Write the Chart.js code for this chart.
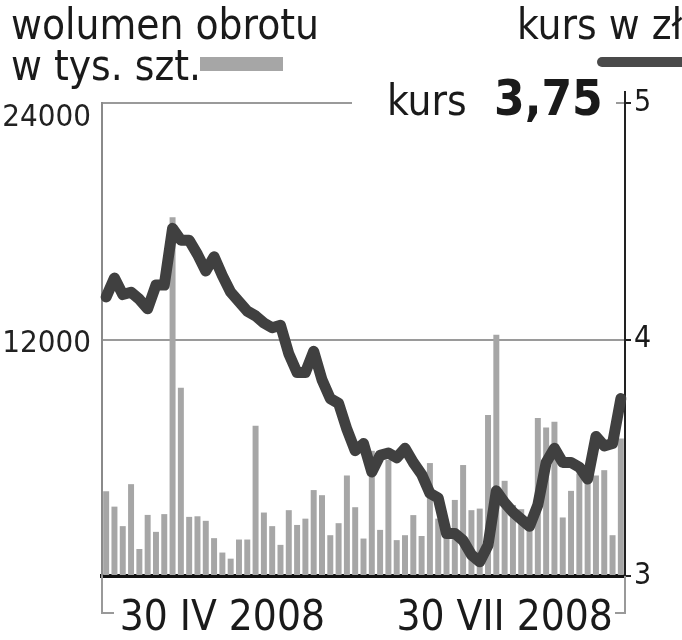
<!DOCTYPE html>
<html lang="pl">
<head>
<meta charset="UTF-8">
<title>Wolumen obrotu i kurs</title>
<script src="https://cdn.jsdelivr.net/npm/chart.js"></script>
<style>
    html, body { margin: 0; padding: 0; background: #fff; overflow: hidden; }
    #wrap {
        position: relative; width: 682px; height: 640px; overflow: hidden;
        font-family: 'DejaVu Sans Condensed', 'DejaVu Sans', sans-serif; color: #1a1a1a;
    }
    #wrap canvas { position: absolute; left: 0; top: 0; }
    .txt { position: absolute; font-size: 42px; line-height: 42px; white-space: nowrap; }
    #cover { position: absolute; left: 352px; top: 96px; width: 264px; height: 14px; background: #fff; }
    #kursVal { position: absolute; left: 494px; top: 75px; font-size: 49px; line-height: 48px; font-weight: bold; }
    #volKey { position: absolute; left: 200px; top: 57px; width: 83px; height: 14px; background: #a6a6a6; }
    #priceKey { position: absolute; left: 597px; top: 57px; width: 110px; height: 10px; border-radius: 5px; background: #4a4a4a; }
</style>
</head>
<body>
<div id="wrap">
    <canvas id="chart" width="682" height="640"></canvas>
    <div class="txt" style="left:11px; top:4px;">wolumen obrotu</div>
    <div class="txt" style="left:11px; top:45px;">w tys. szt.</div>
    <div id="volKey"></div>
    <div class="txt" style="left:517px; top:4px;">kurs w zł</div>
    <div id="priceKey"></div>
    <div id="cover"></div>
    <div class="txt" style="left:387px; top:80px;">kurs</div>
    <div id="kursVal">3,75</div>
</div>

<script>
// volume in thousands of shares, one bar per session
const volume = [
    4300, 3520, 2530, 4660, 1370, 3100, 2240, 3140, 18200, 9550,
    3000, 3030, 2800, 1920, 1190, 880, 1850, 1850, 7630, 3220,
    2530, 1580, 3340, 2590, 2910, 4360, 4100, 2070, 2680, 5100,
    3490, 1900, 6350, 2340, 5900, 1820, 2070, 3090, 2030, 5730,
    2910, 2000, 3860, 5630, 3340, 3420, 8170, 12240, 4830, 3600,
    3390, 2300, 8020, 7540, 7830, 2970, 4320, 5200, 4850, 5100,
    5370, 2070, 6980
];

// closing price in zł
const price = [
    4.18, 4.26, 4.19, 4.20, 4.17, 4.13, 4.23, 4.23, 4.47, 4.42,
    4.42, 4.36, 4.29, 4.35, 4.27, 4.20, 4.16, 4.12, 4.10, 4.07,
    4.05, 4.06, 3.94, 3.86, 3.86, 3.95, 3.83, 3.75, 3.73, 3.62,
    3.53, 3.56, 3.44, 3.51, 3.52, 3.50, 3.54, 3.48, 3.43, 3.35,
    3.33, 3.18, 3.18, 3.15, 3.09, 3.06, 3.13, 3.36, 3.31, 3.27,
    3.24, 3.21, 3.30, 3.48, 3.54, 3.48, 3.48, 3.46, 3.41, 3.59,
    3.55, 3.56, 3.75
];

const dateTickIndex = [14, 48];
const dateTickText = ['30 IV 2008', '30 VII 2008'];
const volumeTicks = [0, 12000, 24000];
const priceTicks = [3, 4, 5];

const family = "'DejaVu Sans Condensed', 'DejaVu Sans', sans-serif";

const labels = volume.map((v, i) => {
    const k = dateTickIndex.indexOf(i);
    return k < 0 ? '' : dateTickText[k];
});

// left labels (top one hangs below its line), bracket under the axis, top of right axis
const extras = {
    id: 'extras',
    afterDraw(chart) {
        const ctx = chart.ctx;
        const s = chart.scales.y;
        const a = chart.chartArea;
        ctx.save();
        ctx.font = '31px ' + family;
        ctx.fillStyle = '#222';
        ctx.textAlign = 'right';
        ctx.textBaseline = 'alphabetic';
        volumeTicks.forEach(v => {
            if (v === 0) return;
            const y = s.getPixelForValue(v);
            ctx.fillText(String(v), 91, v === s.max ? y + 23 : y + 12);
        });

        ctx.strokeStyle = '#999';
        ctx.lineWidth = 2;
        ctx.beginPath();
        ctx.moveTo(a.left, a.bottom);
        ctx.lineTo(a.left, 613);
        ctx.lineTo(a.left + 12, 613);
        ctx.moveTo(a.right, a.bottom);
        ctx.lineTo(a.right, 613);
        ctx.lineTo(a.right - 10, 613);
        ctx.stroke();

        ctx.strokeStyle = '#222';
        ctx.beginPath();
        ctx.moveTo(a.right, a.top);
        ctx.lineTo(a.right, a.top - 12);
        ctx.stroke();
        ctx.restore();
    }
};

new Chart(document.getElementById('chart'), {
    type: 'bar',
    data: {
        labels: labels,
        datasets: [{
            type: 'line',
            label: 'kurs w zł',
            data: price,
            yAxisID: 'y1',
            order: 1,
            borderColor: '#404040',
            borderWidth: 11,
            borderJoinStyle: 'round',
            borderCapStyle: 'round',
            pointRadius: 0,
            tension: 0
        }, {
            label: 'wolumen obrotu w tys. szt.',
            data: volume,
            yAxisID: 'y',
            order: 2,
            backgroundColor: '#a6a6a6',
            barPercentage: 0.72,
            categoryPercentage: 1.0
        }]
    },
    options: {
        responsive: false,
        animation: false,
        events: [],
        layout: { padding: { top: 103, left: 0, right: 0, bottom: 0 } },
        plugins: { legend: { display: false }, tooltip: { enabled: false } },
        scales: {
            x: {
                offset: true,
                grid: { display: false },
                border: { display: true, color: '#111', width: 4 },
                ticks: {
                    autoSkip: false, maxRotation: 0, minRotation: 0, padding: 10,
                    color: '#1a1a1a', font: { family: family, size: 42 }
                },
                afterFit: s => { s.height = 64; }
            },
            y: {
                position: 'left',
                min: 0,
                max: 24000,
                afterBuildTicks: s => { s.ticks = volumeTicks.map(v => ({ value: v })); },
                grid: {
                    color: c => c.tick.value === 0 ? 'rgba(0,0,0,0)' : '#9a9a9a',
                    lineWidth: 2,
                    drawTicks: false
                },
                border: { color: '#8a8a8a', width: 2 },
                ticks: { display: false },
                afterFit: s => { s.width = 102; }
            },
            y1: {
                position: 'right',
                min: 3,
                max: 5,
                afterBuildTicks: s => { s.ticks = priceTicks.map(v => ({ value: v })); },
                grid: { drawOnChartArea: false, tickLength: 6, color: '#222', lineWidth: 2 },
                border: { color: '#222', width: 2 },
                ticks: { padding: 3, color: '#1a1a1a', font: { family: family, size: 30 } },
                afterFit: s => { s.width = 57; }
            }
        }
    },
    plugins: [extras]
});
</script>
</body>
</html>
